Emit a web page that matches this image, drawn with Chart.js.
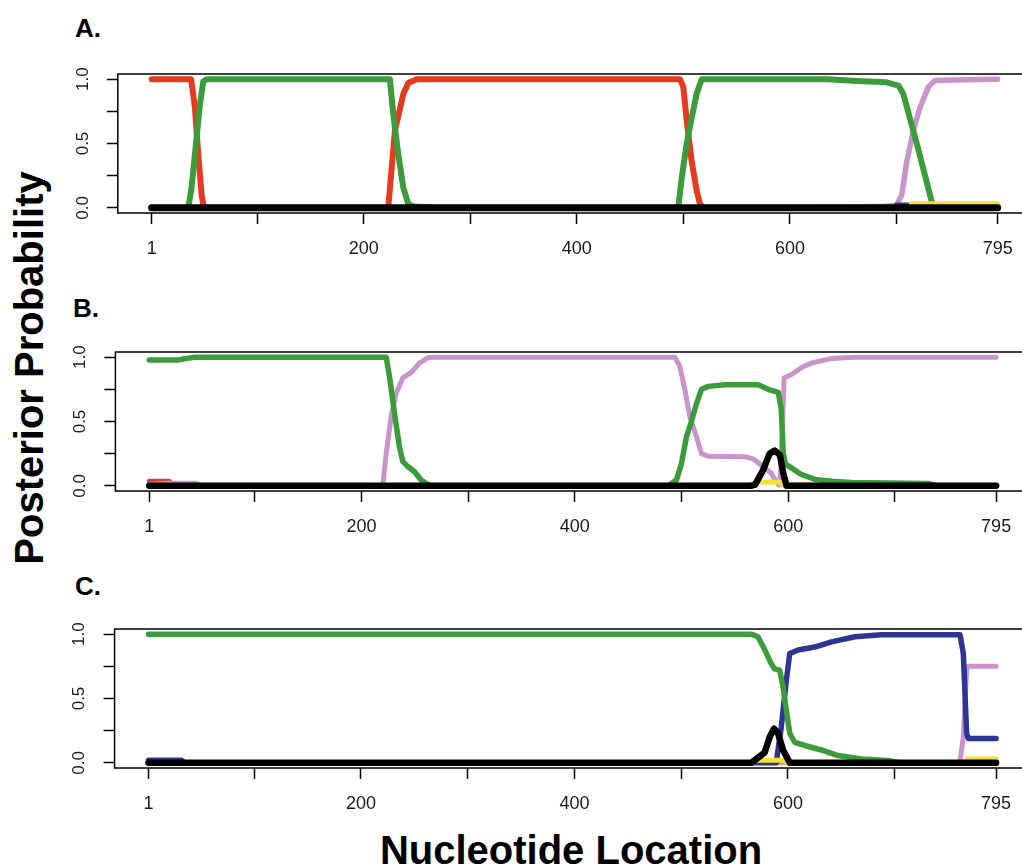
<!DOCTYPE html>
<html>
<head>
<meta charset="utf-8">
<script src="https://cdn.jsdelivr.net/npm/chart.js@4.4.1/dist/chart.umd.min.js"></script>
<style>
  body { margin: 0; width: 1022px; height: 868px; overflow: hidden; position: relative; background: #fff;
         font-family: "Liberation Sans", Arial, Helvetica, sans-serif; }
  .panel { position: absolute; left: 0; }
  .letter { position: absolute; font-weight: bold; font-size: 26px; line-height: 26px; color: #000; }
  .axis-title { position: absolute; font-weight: bold; font-size: 40px; line-height: 40px; width: 400px;
                text-align: center; color: #000; white-space: nowrap; }
</style>
</head>
<body>
<div class="letter" style="left:75px;top:15px">A.</div>
<div class="letter" style="left:73px;top:295px">B.</div>
<div class="letter" style="left:75px;top:573px">C.</div>
<div class="axis-title" style="left:-171px;top:348px;transform:rotate(-90deg)">Posterior Probability</div>
<div class="axis-title" style="left:371px;top:830px">Nucleotide Location</div>

<div class="panel" id="wrap-a"><canvas id="chart-a"></canvas></div>
<div class="panel" id="wrap-b"><canvas id="chart-b"></canvas></div>
<div class="panel" id="wrap-c"><canvas id="chart-c"></canvas></div>

<script>
// --- axis ticks ---
const xTicks  = [1, 100, 200, 300, 400, 500, 600, 700, 795];
const xLabels = [1, 200, 400, 600, 795];
const yTicks  = [0, 0.25, 0.5, 0.75, 1];
const yLabels = [0, 0.5, 1];

// --- Panel A: [nucleotide, posterior] ---
const aRed = [[1,1],[38,1],[41.6,0.78],[44.7,0.42],[47.9,0.1],[50.1,0],[223,0],[229.3,0.6],[237.2,0.885],
  [241.8,0.97],[249.7,1],[496.8,1],[499.9,0.94],[503.1,0.68],[507.8,0.36],[512.5,0.13],[515.6,0.03],[519,0],[795,0]];
const aGreen = [[1,0],[35.4,0],[38.5,0.16],[43.2,0.55],[46.3,0.8],[49.4,0.98],[52.6,1],[224.6,1],[227.7,0.73],
  [232.4,0.42],[237.1,0.16],[241.8,0.03],[247,0.01],[262,0.005],[265,0],[495.2,0],[498.4,0.23],[503.1,0.5],
  [507.8,0.7],[512.5,0.89],[517.2,1],[634.5,1],[662.7,0.985],[690.8,0.975],[701.8,0.95],[706.4,0.885],
  [719,0.5],[733,0.05],[736,0.01],[740,0],[795,0]];
const aPurple = [[1,0],[609,0],[650,0.005],[690,0.012],[700,0.02],[704.9,0.1],[709.6,0.36],[715.8,0.6],
  [722,0.78],[729.9,0.94],[736.1,0.99],[765,0.995],[795,1]];
const aBlue = [[700,0.02],[712,0.02]];
const aYellow = [[714,0.03],[795,0.03]];
const aBlack = [[1,0],[795,0]];

// --- Panel B ---
const bRed = [[1,0.035],[20,0.035],[24,0]];
const bGreen = [[1,0.977],[27.6,0.977],[33.9,0.987],[44.7,1],[223.1,1],[226.2,0.85],[230.9,0.565],[235.6,0.3],
  [238.7,0.19],[243.4,0.15],[249.7,0.11],[255.9,0.045],[262.2,0.01],[266,0],[487.4,0],[495.2,0.045],
  [499.9,0.17],[504.6,0.38],[509.3,0.5],[514.1,0.64],[518.8,0.75],[525.1,0.773],[540.7,0.786],[572,0.786],
  [581.3,0.75],[590.7,0.727],[593.5,0.6],[595.5,0.25],[597.5,0.17],[603,0.14],[612,0.09],[625,0.05],
  [640.8,0.036],[659.5,0.026],[731.4,0.018],[740,0],[795,0]];
const bPurple = [[1,0.01],[20,0.02],[45,0.02],[50,0],[219.9,0],[223.1,0.25],[227.8,0.54],[232.5,0.72],
  [238.8,0.84],[246.5,0.88],[254.4,0.955],[262.2,0.995],[268,1],[493.7,1],[498.4,0.93],[503.1,0.75],
  [507.8,0.54],[514.1,0.38],[518.8,0.25],[525.1,0.23],[559.5,0.226],[567,0.21],[575,0.16],[584,0.1],
  [589,0.03],[591.5,0.005],[593,0.1],[596.3,0.84],[603.2,0.865],[612.6,0.92],[622,0.955],[640.8,0.99],
  [662.7,1],[795,1]];
const bYellow = [[565,0],[570,0.03],[592,0.03],[596,0],[605,0.01],[620,0.01],[625,0]];
const bBlack = [[1,0],[565,0],[569,0.01],[576.4,0.12],[582.6,0.25],[587.3,0.275],[592.3,0.24],[595.4,0.1],
  [598.5,0],[795,0]];

// --- Panel C ---
const cGreen = [[1,1],[565.6,1],[571.9,0.98],[578.2,0.88],[584.4,0.77],[587.6,0.73],[592.3,0.72],[595.4,0.59],
  [598.5,0.41],[601.7,0.23],[606.4,0.16],[615.7,0.135],[631.3,0.1],[647,0.057],[668.8,0.03],[693.9,0.018],
  [705,0],[795,0]];
const cBlue = [[1,0.02],[32,0.02],[35,0],[589,0],[593.8,0.28],[598.5,0.64],[601.7,0.85],[609.5,0.877],
  [625.1,0.9],[640.8,0.94],[662.7,0.98],[687.7,0.995],[761.2,0.995],[764.3,0.85],[767.4,0.23],[769,0.19],
  [795,0.19]];
const cPurple = [[1,0],[761,0],[764.3,0.2],[767.4,0.72],[769,0.75],[795,0.75]];
const cYellow = [[566,0],[570,0.02],[596,0.02],[600,0],[765,0],[768,0.03],[795,0.03]];
const cBlack = [[1,0],[565.6,0],[578.2,0.08],[582.9,0.2],[587,0.265],[590.7,0.23],[595.4,0.1],[601.7,0],[795,0]];

// --- colours ---
const RED = '#e63a20', GREEN = '#3c9b3a', PURPLE = '#c994c9', BLUE = '#2e3494', YELLOW = '#f4e22e', BLACK = '#000';

const FONT = '"Liberation Sans", Arial, Helvetica, sans-serif';

function line(points, color, width, order) {
  return {
    data: points.map(([x, y]) => ({ x, y })),
    borderColor: color,
    borderWidth: width,
    borderCapStyle: 'round',
    borderJoinStyle: 'round',
    pointRadius: 0,
    tension: 0,
    fill: false,
    order,
  };
}

// frame round the plot region (R's box())
const boxPlugin = {
  id: 'box',
  beforeDatasetsDraw(chart) {
    const { ctx, chartArea: a } = chart;
    ctx.save();
    ctx.strokeStyle = '#000';
    ctx.lineWidth = 1.5;
    ctx.strokeRect(a.left, a.top, a.right - a.left, a.bottom - a.top);
    ctx.restore();
  }
};

function makePanel(id, area, datasets) {
  const canvasW = 1040;
  const padTop = 14, axisH = 50;
  const wrap = document.getElementById('wrap-' + id.slice(-1));
  const canvas = document.getElementById(id);
  wrap.style.top = (area.top - padTop) + 'px';
  canvas.width = canvasW;
  canvas.height = Math.round(area.bottom - area.top + padTop + axisH);

  return new Chart(canvas, {
    type: 'line',
    data: { datasets },
    plugins: [boxPlugin],
    options: {
      animation: false,
      responsive: false,
      devicePixelRatio: 1,
      layout: { padding: { top: padTop, left: 0, right: canvasW - area.right, bottom: 0 } },
      plugins: { legend: { display: false }, tooltip: { enabled: false }, title: { display: false } },
      scales: {
        x: {
          type: 'linear',
          min: -30.76,
          max: 826.76,
          afterBuildTicks: s => { s.ticks = xTicks.map(v => ({ value: v })); },
          afterFit: s => { s.height = axisH; s.paddingLeft = 0; s.paddingRight = 0; },
          ticks: {
            autoSkip: false,
            maxRotation: 0,
            padding: 14,
            color: '#1a1a1a',
            font: { family: FONT, size: 18 },
            callback: v => xLabels.includes(v) ? String(v) : '',
          },
          grid: { drawOnChartArea: false, tickLength: 11, tickWidth: 1.5, tickColor: '#000' },
          border: { display: false },
        },
        y: {
          min: -0.04,
          max: 1.04,
          afterBuildTicks: s => { s.ticks = yTicks.map(v => ({ value: v })); },
          afterFit: s => { s.width = area.left; s.paddingTop = 0; s.paddingBottom = 0; },
          ticks: {
            minRotation: 90,
            maxRotation: 90,
            crossAlign: 'center',
            padding: 12,
            color: '#1a1a1a',
            font: { family: FONT, size: 17 },
            callback: v => yLabels.includes(v) ? v.toFixed(1) : '',
          },
          grid: { drawOnChartArea: false, tickLength: 11, tickWidth: 1.5, tickColor: '#000' },
          border: { display: false },
        }
      }
    }
  });
}

const chartA = makePanel('chart-a', { top: 73.5, bottom: 212, left: 117.8, right: 1031.6 }, [
  line(aBlack, BLACK, 7, 0),
  line(aYellow, YELLOW, 5.5, 1),
  line(aGreen, GREEN, 6, 2),
  line(aBlue, BLUE, 5.5, 3),
  line(aPurple, PURPLE, 5.5, 4),
  line(aRed, RED, 6, 5),
]);

const chartB = makePanel('chart-b', { top: 352, bottom: 490.5, left: 115.4, right: 1030 }, [
  line(bBlack, BLACK, 6.5, 0),
  line(bYellow, YELLOW, 5, 1),
  line(bGreen, GREEN, 5.5, 2),
  line(bPurple, PURPLE, 5, 4),
  line(bRed, RED, 5, 5),
]);

const chartC = makePanel('chart-c', { top: 628.5, bottom: 767, left: 114.6, right: 1030 }, [
  line(cBlack, BLACK, 6.5, 0),
  line(cYellow, YELLOW, 5, 1),
  line(cGreen, GREEN, 5.5, 2),
  line(cBlue, BLUE, 5.5, 3),
  line(cPurple, PURPLE, 5, 4),
]);
</script>
</body>
</html>
